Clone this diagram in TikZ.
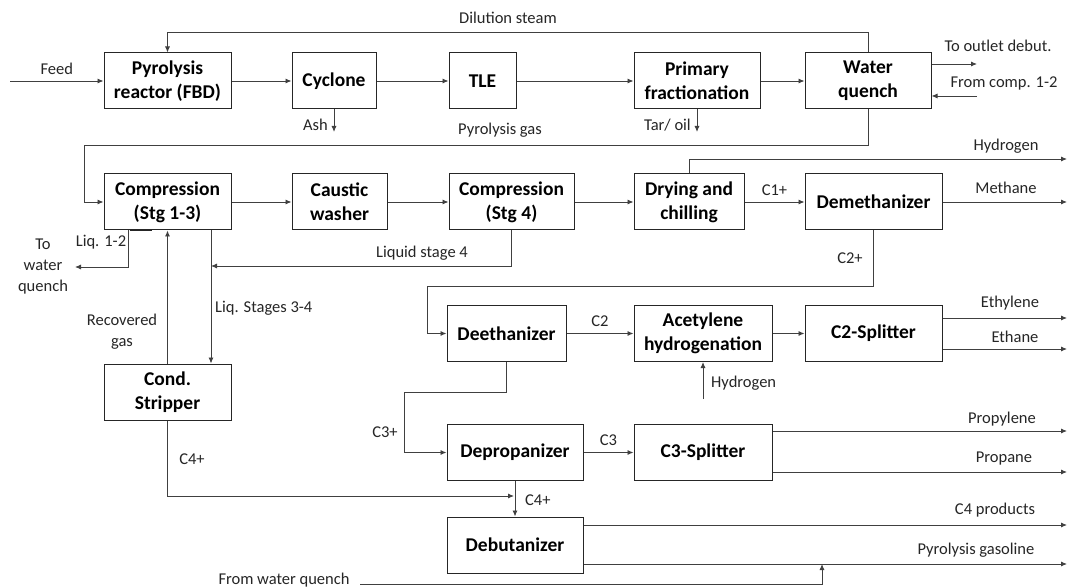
\documentclass[tikz,border=0pt]{standalone}
\usepackage{fontspec}
\setmainfont{Carlito}
\usetikzlibrary{arrows.meta}
\definecolor{linegray}{RGB}{64,64,64}

\begin{document}
\begin{tikzpicture}
[x=1pt,y=-1pt,
  unitbox/.style={shape=rectangle,draw=black!85,line width=1pt,align=center,
    inner sep=0pt,minimum height=56pt,font=\fontsize{19.5}{24}\selectfont\bfseries},
  flow/.style={draw=linegray,line width=0.9pt,-{Latex[length=6pt,width=5pt]}},
  lbl/.style={font=\fontsize{16.5}{21}\selectfont,text=black!85,inner sep=0pt,align=center}]
\useasboundingbox[fill=white] (0,0) rectangle (1069,588);
%% process units
\foreach \nodename/\x/\y/\w/\txt in {
  pyro/167.5/81/127/{Pyrolysis\\reactor (FBD)},
  cyclone/334/81/84/Cyclone,
  tle/482.5/81/67/TLE,
  primfrac/697/81/126/{Primary\\fractionation},
  quench/868/81/126/{Water\\quench},
  compA/167.5/202/127/{Compression\\(Stg 1-3)},
  caustic/339.5/202/95/{Caustic\\washer},
  compB/511.5/202/125/{Compression\\(Stg 4)},
  drying/689/202/110/{Drying and\\chilling},
  demeth/873.5/202/137/Demethanizer,
  deeth/506.5/333.5/119/Deethanizer,
  acet/703/333.5/138/{Acetylene\\hydrogenation},
  csplitA/873.5/333.5/137/C2-Splitter,
  stripper/167.5/392/127/{Cond.\\Stripper},
  deprop/515/452.5/136/Depropanizer,
  csplitB/703/452.5/138/C3-Splitter,
  debut/515/545/136/Debutanizer} {
  \node[unitbox,minimum width=\w pt] (\nodename) at (\x,\y) {\txt};
}
%% free ends and bends
\coordinate (feedIn) at (10,81);
\coordinate (steamTurn) at (868,32);
\coordinate (ashOut) at (334,132);
\coordinate (tarOut) at (697,132);
\coordinate (gasTurn) at (84,145);
\coordinate (debutOut) at (977,64);
\coordinate (compIn) at (977,96);
\coordinate (hydOut) at (1067,159);
\coordinate (methOut) at (1067,202);
\coordinate (ctwoTurn) at (427,286);
\coordinate (liqOut) at (75,267);
\coordinate (liqJoin) at (211,266);
\coordinate (hydIn) at (703,399);
\coordinate (ethyOut) at (1067,318);
\coordinate (ethaOut) at (1067,349);
\coordinate (cthreeTurn) at (404,392);
\coordinate (propyOut) at (1067,431);
\coordinate (propaOut) at (1067,472);
\coordinate (cfourJoin) at (514,496);
\coordinate (cfourOut) at (1067,525);
\coordinate (gasoOut) at (1067,564);
\coordinate (fwqIn) at (360,584);
\coordinate (fwqUp) at (822,564);
%% pyrolysis section
\draw[flow] (feedIn) -- node[lbl,above=6pt] {Feed} (pyro);
\draw[flow] (pyro) -- (cyclone);
\draw[flow] (cyclone) -- (tle);
\draw[flow] (tle) -- (primfrac);
\draw[flow] (primfrac) -- (quench);
\draw[flow] (quench.north) -- (steamTurn) -| (pyro.north);
\node[lbl] at (508,18) {Dilution steam};
\draw[flow] (cyclone.south) -- (ashOut);
\node[lbl,anchor=east] at (328,125) {Ash};
\draw[flow] (primfrac.south) -- (tarOut);
\node[lbl,anchor=east] at (691,125) {Tar/ oil};
\draw[flow] (quench.east |- debutOut) -- (debutOut);
\node[lbl] at (998,46) {To outlet debut.};
\draw[flow] (compIn) -- (quench.east |- compIn);
\node[lbl] at (1004,83) {From comp. 1-2};
\draw[flow] (quench.south) |- (gasTurn) |- (compA.west);
\node[lbl] at (500,130) {Pyrolysis gas};
%% compression and cold section
\draw[flow] (compA) -- (caustic);
\draw[flow] (caustic) -- (compB);
\draw[flow] (compB) -- (drying);
\draw[flow] (drying) -- node[lbl,above=6pt] {C1+} (demeth);
\draw[flow] (drying.north) |- (hydOut);
\node[lbl] at (1006,146) {Hydrogen};
\draw[flow] (demeth) -- (methOut);
\node[lbl] at (1006,188) {Methane};
\draw[flow] (demeth.south) |- (ctwoTurn) |- (deeth.west);
\node[lbl] at (850,258) {C2+};
\draw[flow] ([xshift=25pt]compA.south west) |- (liqOut);
\draw[black!85,line width=1.6pt] ([xshift=26pt]compA.south west) -- ++(22,0);
\node[lbl] at (101,242) {Liq. 1-2};
\node[lbl] at (43,267) {To\\water\\quench};
\draw[flow] (stripper) -- (compA);
\node[lbl] at (122,332) {Recovered\\gas};
\draw[flow] ([xshift=43.5pt]compA.south) -- ([xshift=43.5pt]stripper.north);
\node[lbl,anchor=west] at (215,308) {Liq. Stages 3-4};
\draw[flow] (compB.south) |- (liqJoin);
\node[lbl] at (422,253) {Liquid stage 4};
%% separation train
\draw[flow] (deeth) -- node[lbl,above=6pt] {C2} (acet);
\draw[flow] (acet) -- (csplitA);
\draw[flow] (hydIn) -- (acet.south);
\node[lbl,anchor=west] at (711,383) {Hydrogen};
\draw[flow] (csplitA.east |- ethyOut) -- (ethyOut);
\node[lbl] at (1010,303) {Ethylene};
\draw[flow] (csplitA.east |- ethaOut) -- (ethaOut);
\node[lbl] at (1015,337) {Ethane};
\draw[flow] (deeth.south) |- (cthreeTurn) |- (deprop.west);
\node[lbl] at (385,432) {C3+};
\draw[flow] (deprop) -- node[lbl,above=6pt] {C3} (csplitB);
\draw[flow] (csplitB.east |- propyOut) -- (propyOut);
\node[lbl] at (1002,419) {Propylene};
\draw[flow] (csplitB.east |- propaOut) -- (propaOut);
\node[lbl] at (1004,459) {Propane};
\draw[flow] (deprop) -- (debut);
\node[lbl,anchor=west] at (525,500) {C4+};
\draw[flow] (stripper.south) |- (cfourJoin);
\node[lbl] at (192,459) {C4+};
\draw[flow] (debut.east |- cfourOut) -- (cfourOut);
\node[lbl] at (995,510) {C4 products};
\draw[flow] (debut.east |- gasoOut) -- (gasoOut);
\node[lbl] at (976,550) {Pyrolysis gasoline};
\draw[flow] (fwqIn) -| (fwqUp);
\node[lbl] at (284,580) {From water quench};
\end{tikzpicture}
\end{document}
